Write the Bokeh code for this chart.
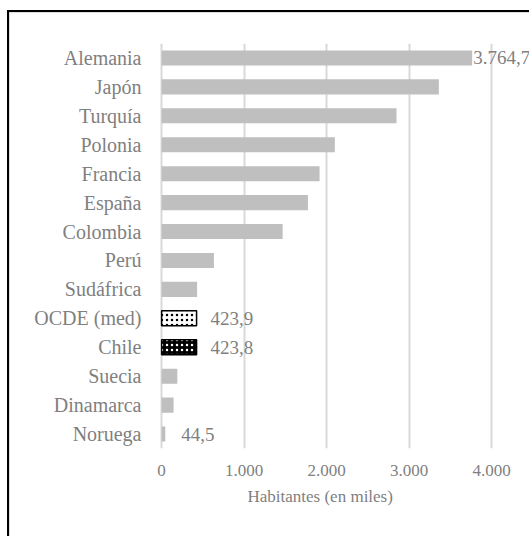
from bokeh.plotting import figure
from bokeh.models import Range1d, FactorRange, ColumnDataSource, FixedTicker, LabelSet, Title
from bokeh.layouts import column
from bokeh.embed import file_html
from bokeh.resources import INLINE

countries = ["Alemania", "Japón", "Turquía", "Polonia", "Francia", "España", "Colombia",
             "Perú", "Sudáfrica", "OCDE (med)", "Chile", "Suecia", "Dinamarca", "Noruega"]
habitantes = [3764.7, 3361, 2848, 2100, 1915, 1774, 1467, 634, 430, 423.9, 423.8, 190, 145, 44.5]
label_rows = ["Alemania", "OCDE (med)", "Chile", "Noruega"]
label_texts = ["3.764,7", "423,9", "423,8", "44,5"]
label_values = [3764.7, 423.9, 423.8, 44.5]
ticks = [0, 1000, 2000, 3000, 4000]
tick_labels = ["0", "1.000", "2.000", "3.000", "4.000"]
axis_title = "Habitantes (en miles)"

FONT = "'Liberation Serif', 'DejaVu Serif', serif"
GREY = "#7f7f7f"

p = figure(width=520, height=524, output_backend="svg", toolbar_location=None,
           y_range=FactorRange(factors=countries[::-1], range_padding=0),
           x_range=Range1d(-50, 4460),
           min_border_left=148, min_border_right=0, min_border_top=31, min_border_bottom=88)
p.outline_line_color = None
p.background_fill_color = "white"
p.border_fill_color = "white"

plain = [c for c in countries if c not in ("OCDE (med)", "Chile")]
plain_vals = [v for c, v in zip(countries, habitantes) if c not in ("OCDE (med)", "Chile")]
p.hbar(y=plain, right=plain_vals, left=0, height=0.52, fill_color="#bfbfbf", line_color=None)

i_o = countries.index("OCDE (med)")
i_c = countries.index("Chile")
p.hbar(y=[countries[i_o]], right=[habitantes[i_o]], left=0, height=0.52,
       fill_color="white", line_color="black", line_width=1.5,
       hatch_pattern="dot", hatch_color="black", hatch_scale=5, hatch_weight=1.4)
p.hbar(y=[countries[i_c]], right=[habitantes[i_c]], left=0, height=0.52,
       fill_color="black", line_color="black", line_width=1.5,
       hatch_pattern="dot", hatch_color="white", hatch_scale=5, hatch_weight=1.4)

pixel_gaps = [1, 14, 14, 16]
src = ColumnDataSource(dict(y=label_rows, x=label_values, t=label_texts, dx=pixel_gaps))
labels = LabelSet(x="x", y="y", text="t", source=src, x_offset="dx",
                  text_font=FONT, text_font_size="19px",
                  text_color=GREY, text_baseline="middle", text_align="left")
p.add_layout(labels)

p.xgrid.grid_line_color = "#d9d9d9"
p.xgrid.grid_line_width = 2
p.ygrid.grid_line_color = None
p.xaxis.ticker = FixedTicker(ticks=ticks)
p.xaxis.major_label_overrides = {t: l for t, l in zip(ticks, tick_labels)}
p.xgrid.ticker = FixedTicker(ticks=ticks)

for ax in (p.xaxis[0], p.yaxis[0]):
    ax.axis_line_color = None
    ax.major_tick_line_color = None
    ax.minor_tick_line_color = None
    ax.major_label_text_font = FONT
    ax.major_label_text_color = GREY

p.yaxis.major_label_text_font_size = "20px"
p.yaxis.major_label_standoff = 10
p.xaxis.major_label_text_font_size = "17px"
p.xaxis.major_label_standoff = 10

t = Title(text=axis_title, align="left", offset=90, text_font=FONT, text_font_size="17px",
          text_color=GREY, text_font_style="normal", standoff=12)
p.add_layout(t, "below")

layout = column(p, styles={"border-left": "2px solid black", "border-top": "2px solid black",
                           "margin-left": "7px", "margin-top": "10px",
                           "box-shadow": "inset 1px 1px 0 #d0d0d0"})

open("out.html", "w").write(file_html(layout, INLINE))
